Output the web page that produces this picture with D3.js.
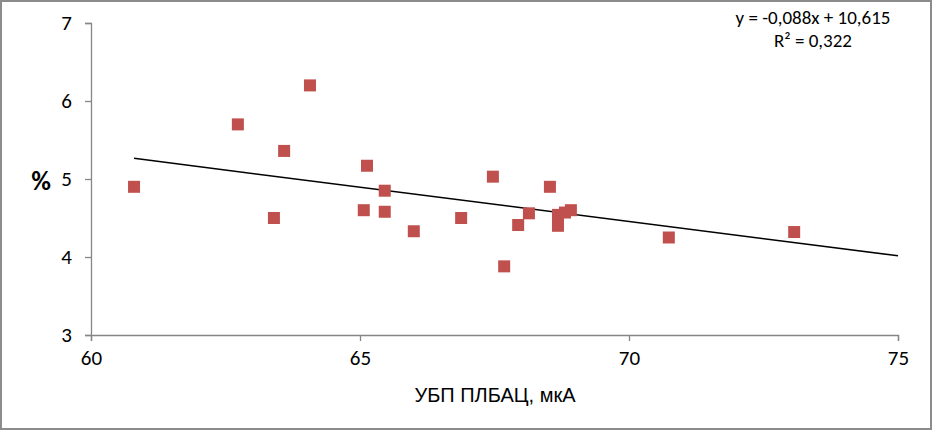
<!DOCTYPE html>
<html><head><meta charset="utf-8">
<script src="https://cdn.jsdelivr.net/npm/d3@7"></script>
<style>
html,body{margin:0;padding:0;background:#fff;}
svg{display:block;}
</style></head>
<body>
<svg id="c" width="933" height="431"></svg>
<script>
// Data
const xValues = [60.8, 62.73, 63.59, 63.4, 64.07, 65.07, 65.13, 65.46, 65.46, 66.0, 66.88, 67.47, 67.68, 67.94, 68.14, 68.53, 68.68, 68.68, 68.81, 68.92, 70.74, 73.07];
const yValues = [4.9, 5.7, 5.36, 4.5, 6.2, 4.6, 5.17, 4.85, 4.58, 4.33, 4.5, 5.03, 3.88, 4.41, 4.56, 4.9, 4.54, 4.4, 4.57, 4.6, 4.25, 4.32];
const xTicks = [60, 65, 70, 75];
const yTicks = [3, 4, 5, 6, 7];
const trendSlope = -0.088;
const trendIntercept = 10.615;
const equationLines = ["y = -0,088x + 10,615", "R² = 0,322"];
const xTitle = "УБП ПЛБАЦ, мкА";
const yTitle = "%";

const svg = d3.select("#c");
const W = 933, H = 431;
const font = "Carlito, Calibri, 'Liberation Sans', sans-serif";

svg.append("rect").attr("x", 1).attr("y", 1).attr("width", W - 3).attr("height", H - 3)
  .attr("fill", "#fff").attr("stroke", "#8c8c8c").attr("stroke-width", 2);

const x = d3.scaleLinear().domain([60, 75]).range([91, 898]);
const y = d3.scaleLinear().domain([3, 7]).range([335, 23]);
const axisColor = "#868686";

const gx = svg.append("g").attr("transform", `translate(0,${y(3)})`)
  .call(d3.axisBottom(x).tickValues(xTicks).tickSize(6).tickPadding(9).tickFormat(d3.format("d")));
const gy = svg.append("g").attr("transform", `translate(${x(60)},0)`)
  .call(d3.axisLeft(y).tickValues(yTicks).tickSize(6).tickPadding(13).tickFormat(d3.format("d")));
[gx, gy].forEach(g => {
  g.select(".domain").attr("stroke", axisColor).attr("stroke-width", 1.3);
  g.selectAll(".tick line").attr("stroke", axisColor).attr("stroke-width", 1.3);
  g.selectAll(".tick text").attr("fill", "#000").style("font-family", font).style("font-size", "21px");
});

// Trend line
const x0 = d3.min(xValues), x1 = 75;
svg.append("line")
  .attr("x1", x(x0)).attr("y1", y(trendSlope * x0 + trendIntercept))
  .attr("x2", x(x1)).attr("y2", y(trendSlope * x1 + trendIntercept))
  .attr("stroke", "#000").attr("stroke-width", 1.5);

// Points
const s = 12;
svg.append("g").selectAll("rect").data(xValues.map((v, i) => [v, yValues[i]])).join("rect")
  .attr("x", d => x(d[0]) - s / 2).attr("y", d => y(d[1]) - s / 2)
  .attr("width", s).attr("height", s).attr("fill", "#c0504d");

// Equation
svg.append("g").selectAll("text").data(equationLines).join("text")
  .attr("x", 813).attr("y", (d, i) => 24 + i * 23)
  .attr("text-anchor", "middle").style("font-family", font).style("font-size", "19px")
  .text(d => d);

// Titles
svg.append("text").attr("x", 495).attr("y", 402).attr("text-anchor", "middle")
  .style("font-family", "'Liberation Sans', Arial, sans-serif").style("font-size", "20px").text(xTitle);
svg.append("text").attr("x", 41).attr("y", 190).attr("text-anchor", "middle")
  .style("font-family", font).style("font-size", "27px").style("font-weight", "bold").text(yTitle);
</script>
</body></html>
